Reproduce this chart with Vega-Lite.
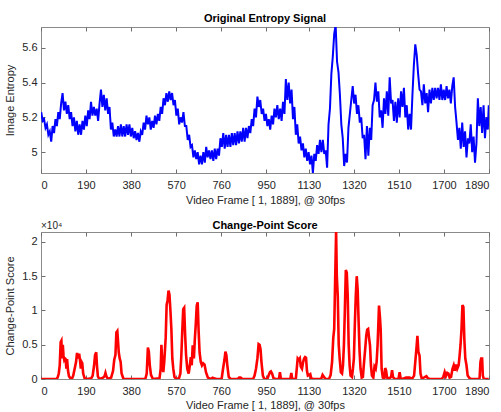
{
  "$schema": "https://vega.github.io/schema/vega-lite/v6.json",
  "background": "white",
  "padding": {"left": 4, "top": 12, "right": 10, "bottom": 0},
  "spacing": 13,
  "config": {
    "font": "Liberation Sans",
    "view": {"stroke": "#8a8a8a", "strokeWidth": 1},
    "axis": {"grid": false, "domain": false, "tickColor": "#6e6e6e", "tickSize": -4, "labelColor": "#262626", "labelFontSize": 11, "titleColor": "#262626", "titleFontSize": 11, "titleFontWeight": "normal", "labelPadding": 10},
    "title": {"fontSize": 11, "fontWeight": "bold", "color": "#000000"}
  },
  "vconcat": [
    {
      "title": {"text": "Original Entropy Signal", "offset": 1},
      "width": 448,
      "height": 146,
      "data": {"values": [
{"f":1,"v":5.23},{"f":7,"v":5.18},{"f":13,"v":5.19},{"f":19,"v":5.14},{"f":25,"v":5.16},{"f":31,"v":5.10},{"f":37,"v":5.12},{"f":43,"v":5.06},{"f":49,"v":5.15},{"f":55,"v":5.11},
{"f":61,"v":5.19},{"f":67,"v":5.15},{"f":73,"v":5.23},{"f":79,"v":5.19},{"f":85,"v":5.28},{"f":91,"v":5.34},{"f":97,"v":5.24},{"f":103,"v":5.29},{"f":109,"v":5.22},{"f":115,"v":5.27},
{"f":121,"v":5.19},{"f":127,"v":5.23},{"f":133,"v":5.15},{"f":139,"v":5.20},{"f":145,"v":5.12},{"f":151,"v":5.18},{"f":157,"v":5.10},{"f":163,"v":5.16},{"f":169,"v":5.10},{"f":175,"v":5.18},
{"f":181,"v":5.13},{"f":187,"v":5.21},{"f":193,"v":5.15},{"f":199,"v":5.24},{"f":205,"v":5.19},{"f":211,"v":5.29},{"f":217,"v":5.21},{"f":223,"v":5.26},{"f":229,"v":5.21},{"f":235,"v":5.25},
{"f":241,"v":5.18},{"f":247,"v":5.28},{"f":253,"v":5.36},{"f":259,"v":5.26},{"f":265,"v":5.33},{"f":271,"v":5.24},{"f":277,"v":5.31},{"f":283,"v":5.22},{"f":289,"v":5.26},{"f":295,"v":5.13},
{"f":301,"v":5.17},{"f":307,"v":5.09},{"f":313,"v":5.13},{"f":319,"v":5.09},{"f":325,"v":5.15},{"f":331,"v":5.09},{"f":337,"v":5.16},{"f":343,"v":5.09},{"f":349,"v":5.15},{"f":355,"v":5.09},
{"f":361,"v":5.16},{"f":367,"v":5.10},{"f":373,"v":5.16},{"f":379,"v":5.09},{"f":385,"v":5.14},{"f":391,"v":5.08},{"f":397,"v":5.12},{"f":403,"v":5.07},{"f":409,"v":5.11},{"f":415,"v":5.06},
{"f":421,"v":5.12},{"f":427,"v":5.10},{"f":433,"v":5.17},{"f":439,"v":5.13},{"f":445,"v":5.21},{"f":451,"v":5.16},{"f":457,"v":5.20},{"f":463,"v":5.13},{"f":469,"v":5.18},{"f":475,"v":5.14},
{"f":481,"v":5.21},{"f":487,"v":5.16},{"f":493,"v":5.22},{"f":499,"v":5.18},{"f":505,"v":5.26},{"f":511,"v":5.22},{"f":517,"v":5.31},{"f":523,"v":5.27},{"f":529,"v":5.34},{"f":535,"v":5.29},
{"f":541,"v":5.35},{"f":547,"v":5.30},{"f":553,"v":5.34},{"f":559,"v":5.27},{"f":565,"v":5.30},{"f":571,"v":5.21},{"f":577,"v":5.25},{"f":583,"v":5.16},{"f":589,"v":5.20},{"f":595,"v":5.17},
{"f":601,"v":5.23},{"f":607,"v":5.15},{"f":613,"v":5.15},{"f":619,"v":5.07},{"f":625,"v":5.10},{"f":631,"v":5.03},{"f":637,"v":5.04},{"f":643,"v":4.97},{"f":649,"v":5.01},{"f":655,"v":4.96},
{"f":661,"v":5.00},{"f":667,"v":4.93},{"f":673,"v":4.98},{"f":679,"v":4.93},{"f":685,"v":5.00},{"f":691,"v":4.94},{"f":697,"v":5.03},{"f":703,"v":4.97},{"f":709,"v":5.01},{"f":715,"v":4.96},
{"f":721,"v":5.01},{"f":727,"v":4.95},{"f":733,"v":5.02},{"f":739,"v":4.96},{"f":745,"v":5.02},{"f":751,"v":4.98},{"f":757,"v":5.08},{"f":763,"v":5.03},{"f":769,"v":5.11},{"f":775,"v":5.02},
{"f":781,"v":5.10},{"f":787,"v":5.03},{"f":793,"v":5.10},{"f":799,"v":5.03},{"f":805,"v":5.11},{"f":811,"v":5.04},{"f":817,"v":5.11},{"f":823,"v":5.04},{"f":829,"v":5.12},{"f":835,"v":5.05},
{"f":841,"v":5.12},{"f":847,"v":5.06},{"f":853,"v":5.14},{"f":859,"v":5.06},{"f":865,"v":5.14},{"f":871,"v":5.08},{"f":877,"v":5.15},{"f":883,"v":5.11},{"f":889,"v":5.19},{"f":895,"v":5.15},
{"f":901,"v":5.25},{"f":907,"v":5.20},{"f":913,"v":5.32},{"f":919,"v":5.26},{"f":925,"v":5.30},{"f":931,"v":5.22},{"f":937,"v":5.25},{"f":943,"v":5.18},{"f":949,"v":5.22},{"f":955,"v":5.15},
{"f":961,"v":5.19},{"f":967,"v":5.13},{"f":973,"v":5.21},{"f":979,"v":5.16},{"f":985,"v":5.25},{"f":991,"v":5.20},{"f":997,"v":5.27},{"f":1003,"v":5.19},{"f":1009,"v":5.25},{"f":1015,"v":5.18},
{"f":1021,"v":5.29},{"f":1027,"v":5.22},{"f":1033,"v":5.42},{"f":1039,"v":5.30},{"f":1045,"v":5.40},{"f":1051,"v":5.28},{"f":1057,"v":5.36},{"f":1063,"v":5.19},{"f":1069,"v":5.26},{"f":1075,"v":5.10},
{"f":1081,"v":5.16},{"f":1087,"v":5.05},{"f":1093,"v":5.09},{"f":1099,"v":5.01},{"f":1105,"v":5.05},{"f":1111,"v":4.97},{"f":1117,"v":5.02},{"f":1123,"v":4.95},{"f":1129,"v":5.00},{"f":1135,"v":4.93},
{"f":1141,"v":4.98},{"f":1147,"v":4.88},{"f":1153,"v":4.99},{"f":1159,"v":4.95},{"f":1165,"v":5.04},{"f":1171,"v":4.99},{"f":1177,"v":5.07},{"f":1183,"v":5.00},{"f":1189,"v":5.07},{"f":1195,"v":4.99},
{"f":1201,"v":5.01},{"f":1207,"v":4.91},{"f":1213,"v":5.16},{"f":1219,"v":5.25},{"f":1225,"v":5.45},{"f":1231,"v":5.55},{"f":1237,"v":5.68},{"f":1243,"v":5.73},{"f":1249,"v":5.52},{"f":1255,"v":5.46},
{"f":1261,"v":5.33},{"f":1267,"v":5.16},{"f":1273,"v":5.08},{"f":1279,"v":4.92},{"f":1285,"v":4.99},{"f":1291,"v":4.94},{"f":1297,"v":5.14},{"f":1303,"v":5.22},{"f":1309,"v":5.30},{"f":1315,"v":5.38},
{"f":1321,"v":5.28},{"f":1327,"v":5.33},{"f":1333,"v":5.22},{"f":1339,"v":5.27},{"f":1345,"v":5.17},{"f":1351,"v":5.20},{"f":1357,"v":5.08},{"f":1363,"v":5.10},{"f":1369,"v":4.96},{"f":1375,"v":5.15},
{"f":1381,"v":4.98},{"f":1387,"v":5.14},{"f":1393,"v":5.07},{"f":1399,"v":5.27},{"f":1405,"v":5.30},{"f":1411,"v":5.40},{"f":1417,"v":5.29},{"f":1423,"v":5.35},{"f":1429,"v":5.20},{"f":1435,"v":5.24},
{"f":1441,"v":5.14},{"f":1447,"v":5.31},{"f":1453,"v":5.22},{"f":1459,"v":5.35},{"f":1465,"v":5.21},{"f":1471,"v":5.43},{"f":1477,"v":5.28},{"f":1483,"v":5.30},{"f":1489,"v":5.18},{"f":1495,"v":5.29},
{"f":1501,"v":5.17},{"f":1507,"v":5.31},{"f":1513,"v":5.20},{"f":1519,"v":5.35},{"f":1525,"v":5.26},{"f":1531,"v":5.37},{"f":1537,"v":5.20},{"f":1543,"v":5.27},{"f":1549,"v":5.13},{"f":1555,"v":5.22},
{"f":1561,"v":5.13},{"f":1567,"v":5.33},{"f":1573,"v":5.50},{"f":1579,"v":5.62},{"f":1585,"v":5.56},{"f":1591,"v":5.45},{"f":1597,"v":5.36},{"f":1603,"v":5.35},{"f":1609,"v":5.27},{"f":1615,"v":5.39},
{"f":1621,"v":5.28},{"f":1627,"v":5.34},{"f":1633,"v":5.23},{"f":1639,"v":5.36},{"f":1645,"v":5.28},{"f":1651,"v":5.37},{"f":1657,"v":5.30},{"f":1663,"v":5.37},{"f":1669,"v":5.31},{"f":1675,"v":5.37},
{"f":1681,"v":5.30},{"f":1687,"v":5.39},{"f":1693,"v":5.30},{"f":1699,"v":5.36},{"f":1705,"v":5.30},{"f":1711,"v":5.38},{"f":1717,"v":5.31},{"f":1723,"v":5.36},{"f":1729,"v":5.28},{"f":1735,"v":5.38},
{"f":1741,"v":5.43},{"f":1747,"v":5.26},{"f":1753,"v":5.17},{"f":1759,"v":5.07},{"f":1765,"v":5.14},{"f":1771,"v":5.02},{"f":1777,"v":5.17},{"f":1783,"v":5.03},{"f":1789,"v":5.12},{"f":1795,"v":4.97},
{"f":1801,"v":5.08},{"f":1807,"v":5.05},{"f":1813,"v":5.16},{"f":1819,"v":5.00},{"f":1825,"v":5.09},{"f":1831,"v":4.94},{"f":1837,"v":5.05},{"f":1843,"v":5.31},{"f":1849,"v":5.15},{"f":1855,"v":5.26},
{"f":1861,"v":5.11},{"f":1867,"v":5.27},{"f":1873,"v":5.08},{"f":1879,"v":5.20},{"f":1885,"v":5.13},{"f":1889,"v":5.27}
      ]},
      "layer": [
        {
          "mark": {"type": "line", "color": "#0000ff", "strokeWidth": 2, "clip": true},
          "encoding": {
            "x": {"field": "f", "type": "quantitative", "scale": {"domain": [0, 1890], "nice": false, "zero": false},
                  "axis": {"orient": "bottom", "values": [0,190,380,570,760,950,1130,1320,1510,1700,1890], "format": "d", "title": "Video Frame [ 1, 1889], @ 30fps", "titlePadding": 4}},
            "y": {"field": "v", "type": "quantitative", "scale": {"domain": [4.88, 5.72], "nice": false, "zero": false},
                  "axis": {"orient": "left", "values": [5, 5.2, 5.4, 5.6], "format": "~g", "title": "Image Entropy", "labelPadding": 8, "titlePadding": 6}}
          }
        },
        {
          "mark": {"type": "line", "opacity": 0},
          "encoding": {
            "x": {"field": "f", "type": "quantitative", "axis": {"orient": "top", "values": [0,190,380,570,760,950,1130,1320,1510,1700,1890], "labels": false, "title": null}},
            "y": {"field": "v", "type": "quantitative", "axis": {"orient": "right", "values": [5, 5.2, 5.4, 5.6], "labels": false, "title": null}}
          }
        }
      ]
    },
    {
      "title": {"text": "Change-Point Score", "offset": -10},
      "width": 448,
      "height": 147,
      "data": {"values": [
{"f":1,"s":0},{"f":65,"s":0},{"f":70,"s":200},{"f":75,"s":800},{"f":79,"s":2000},{"f":83,"s":5400},{"f":86,"s":5600},{"f":89,"s":3000},{"f":92,"s":5000},{"f":95,"s":3400},
{"f":98,"s":2800},{"f":101,"s":3000},{"f":104,"s":2900},{"f":107,"s":1500},{"f":110,"s":2900},{"f":114,"s":1200},{"f":118,"s":400},{"f":124,"s":100},{"f":130,"s":0},{"f":136,"s":500},
{"f":142,"s":1500},{"f":148,"s":2500},{"f":152,"s":3800},{"f":157,"s":3000},{"f":161,"s":3700},{"f":165,"s":2600},{"f":168,"s":1500},{"f":171,"s":2500},{"f":174,"s":2300},{"f":178,"s":800},
{"f":184,"s":100},{"f":195,"s":0},{"f":212,"s":100},{"f":218,"s":500},{"f":224,"s":2000},{"f":228,"s":3500},{"f":233,"s":3900},{"f":236,"s":2000},{"f":240,"s":400},{"f":246,"s":0},
{"f":262,"s":200},{"f":268,"s":400},{"f":272,"s":900},{"f":276,"s":400},{"f":282,"s":0},{"f":296,"s":200},{"f":304,"s":1200},{"f":309,"s":2800},{"f":314,"s":3500},{"f":318,"s":6800},
{"f":322,"s":7000},{"f":325,"s":5500},{"f":328,"s":3900},{"f":332,"s":3000},{"f":336,"s":2500},{"f":340,"s":800},{"f":348,"s":0},{"f":440,"s":0},{"f":446,"s":800},{"f":451,"s":4600},
{"f":455,"s":4000},{"f":459,"s":2000},{"f":464,"s":600},{"f":472,"s":0},{"f":500,"s":100},{"f":505,"s":1500},{"f":508,"s":5000},{"f":512,"s":2000},{"f":516,"s":1000},{"f":520,"s":2500},
{"f":526,"s":6000},{"f":530,"s":10800},{"f":534,"s":11500},{"f":538,"s":12900},{"f":542,"s":12300},{"f":546,"s":10000},{"f":550,"s":7300},{"f":554,"s":3000},{"f":558,"s":1500},{"f":563,"s":300},
{"f":570,"s":0},{"f":582,"s":100},{"f":588,"s":800},{"f":592,"s":3400},{"f":596,"s":7000},{"f":600,"s":10200},{"f":604,"s":10400},{"f":608,"s":6500},{"f":612,"s":3500},{"f":617,"s":1500},
{"f":623,"s":800},{"f":628,"s":2000},{"f":632,"s":3200},{"f":636,"s":2000},{"f":640,"s":4900},{"f":645,"s":3000},{"f":649,"s":5800},{"f":653,"s":8000},{"f":657,"s":10700},{"f":661,"s":11200},
{"f":665,"s":7000},{"f":669,"s":3900},{"f":674,"s":2500},{"f":679,"s":2000},{"f":684,"s":2300},{"f":690,"s":2100},{"f":696,"s":1000},{"f":704,"s":200},{"f":715,"s":0},{"f":724,"s":200},
{"f":730,"s":100},{"f":740,"s":0},{"f":762,"s":0},{"f":768,"s":1500},{"f":774,"s":2800},{"f":778,"s":4000},{"f":782,"s":3500},{"f":786,"s":2000},{"f":792,"s":300},{"f":800,"s":0},
{"f":830,"s":0},{"f":836,"s":200},{"f":842,"s":200},{"f":850,"s":0},{"f":895,"s":0},{"f":901,"s":500},{"f":907,"s":1500},{"f":913,"s":3000},{"f":918,"s":5100},{"f":922,"s":5000},
{"f":926,"s":4400},{"f":930,"s":2500},{"f":936,"s":500},{"f":942,"s":0},{"f":955,"s":0},{"f":960,"s":500},{"f":966,"s":1000},{"f":970,"s":1100},{"f":975,"s":800},{"f":981,"s":100},
{"f":990,"s":0},{"f":1004,"s":0},{"f":1008,"s":1000},{"f":1012,"s":0},{"f":1052,"s":0},{"f":1056,"s":900},{"f":1060,"s":0},{"f":1075,"s":0},{"f":1079,"s":1500},{"f":1083,"s":3000},
{"f":1088,"s":2800},{"f":1092,"s":3000},{"f":1096,"s":1800},{"f":1101,"s":1500},{"f":1106,"s":2500},{"f":1110,"s":3000},{"f":1114,"s":3200},{"f":1118,"s":3100},{"f":1122,"s":1200},{"f":1126,"s":500},
{"f":1132,"s":600},{"f":1136,"s":700},{"f":1140,"s":100},{"f":1148,"s":0},{"f":1182,"s":0},{"f":1188,"s":600},{"f":1194,"s":300},{"f":1200,"s":0},{"f":1215,"s":0},{"f":1222,"s":600},
{"f":1228,"s":2500},{"f":1233,"s":6000},{"f":1237,"s":7300},{"f":1241,"s":14500},{"f":1245,"s":21450},{"f":1248,"s":15000},{"f":1252,"s":12100},{"f":1256,"s":5000},{"f":1260,"s":3000},{"f":1265,"s":1000},
{"f":1270,"s":800},{"f":1274,"s":2000},{"f":1278,"s":5000},{"f":1282,"s":10200},{"f":1286,"s":15900},{"f":1290,"s":15500},{"f":1294,"s":12100},{"f":1298,"s":5000},{"f":1302,"s":2000},{"f":1306,"s":500},
{"f":1312,"s":300},{"f":1316,"s":1500},{"f":1320,"s":3000},{"f":1324,"s":8000},{"f":1328,"s":12100},{"f":1332,"s":15000},{"f":1336,"s":13000},{"f":1340,"s":8300},{"f":1344,"s":4000},{"f":1348,"s":1500},
{"f":1353,"s":200},{"f":1358,"s":300},{"f":1363,"s":2500},{"f":1368,"s":4500},{"f":1372,"s":6300},{"f":1376,"s":7200},{"f":1380,"s":7300},{"f":1384,"s":6000},{"f":1388,"s":4900},{"f":1392,"s":2000},
{"f":1396,"s":500},{"f":1402,"s":200},{"f":1407,"s":1800},{"f":1412,"s":1500},{"f":1416,"s":2500},{"f":1420,"s":5000},{"f":1423,"s":7800},{"f":1426,"s":10700},{"f":1430,"s":9000},{"f":1433,"s":7300},
{"f":1437,"s":1500},{"f":1442,"s":200},{"f":1448,"s":0},{"f":1452,"s":1600},{"f":1456,"s":1200},{"f":1460,"s":200},{"f":1470,"s":100},{"f":1477,"s":300},{"f":1481,"s":1300},{"f":1485,"s":300},
{"f":1492,"s":0},{"f":1508,"s":0},{"f":1513,"s":1000},{"f":1517,"s":100},{"f":1525,"s":0},{"f":1540,"s":200},{"f":1555,"s":200},{"f":1565,"s":0},{"f":1574,"s":500},{"f":1579,"s":2500},
{"f":1584,"s":4500},{"f":1588,"s":6300},{"f":1592,"s":4000},{"f":1597,"s":3400},{"f":1601,"s":800},{"f":1606,"s":100},{"f":1615,"s":200},{"f":1626,"s":400},{"f":1632,"s":100},{"f":1640,"s":0},
{"f":1690,"s":0},{"f":1697,"s":300},{"f":1703,"s":1000},{"f":1708,"s":400},{"f":1714,"s":900},{"f":1719,"s":800},{"f":1724,"s":200},{"f":1730,"s":300},{"f":1736,"s":1500},{"f":1741,"s":2000},
{"f":1746,"s":1200},{"f":1751,"s":2100},{"f":1756,"s":1500},{"f":1762,"s":2000},{"f":1766,"s":3400},{"f":1770,"s":5000},{"f":1774,"s":7300},{"f":1778,"s":10800},{"f":1782,"s":10500},{"f":1786,"s":5800},
{"f":1790,"s":3000},{"f":1795,"s":2000},{"f":1800,"s":500},{"f":1808,"s":100},{"f":1815,"s":0},{"f":1850,"s":0},{"f":1854,"s":2500},{"f":1857,"s":3000},{"f":1861,"s":3000},{"f":1864,"s":500},
{"f":1868,"s":0},{"f":1889,"s":0}
      ]},
      "layer": [
        {
          "mark": {"type": "line", "color": "#ff0000", "strokeWidth": 2.6, "clip": true},
          "encoding": {
            "x": {"field": "f", "type": "quantitative", "scale": {"domain": [0, 1890], "nice": false, "zero": false},
                  "axis": {"orient": "bottom", "values": [0,190,380,570,760,950,1130,1320,1510,1700,1890], "format": "d", "title": "Video Frame [ 1, 1889], @ 30fps", "titlePadding": 3}},
            "y": {"field": "s", "type": "quantitative", "scale": {"domain": [0, 21450], "nice": false},
                  "axis": {"orient": "left", "values": [0, 5000, 10000, 15000, 20000], "labelExpr": "format(datum.value / 10000, '~g')", "title": "Change-Point Score", "labelPadding": 8, "titlePadding": 6}}
          }
        },
        {
          "mark": {"type": "line", "opacity": 0},
          "encoding": {
            "x": {"field": "f", "type": "quantitative", "axis": {"orient": "top", "values": [0,190,380,570,760,950,1130,1320,1510,1700,1890], "labels": false, "title": null}},
            "y": {"field": "s", "type": "quantitative", "axis": {"orient": "right", "values": [0, 5000, 10000, 15000, 20000], "labels": false, "title": null}}
          }
        },
        {
          "data": {"values": [{"label": "×10⁴", "f": 0, "s": 21450}]},
          "mark": {"type": "text", "align": "left", "baseline": "bottom", "dy": -1, "fontSize": 10, "color": "#262626"},
          "encoding": {
            "x": {"field": "f", "type": "quantitative", "axis": null},
            "y": {"field": "s", "type": "quantitative", "axis": null},
            "text": {"field": "label"}
          }
        }
      ]
    }
  ]
}
